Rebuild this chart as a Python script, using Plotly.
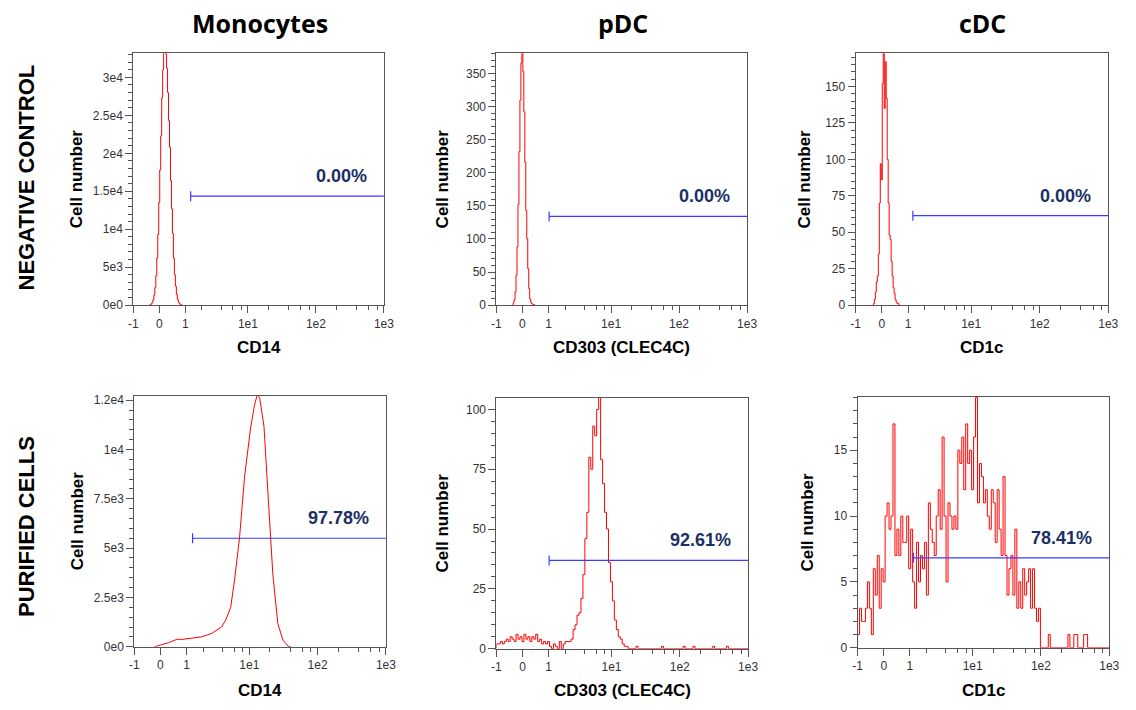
import numpy as np
import plotly.graph_objects as go

W, H = 1136, 710

# ---------------- text ----------------
col_titles = ["Monocytes", "pDC", "cDC"]
row_titles = ["NEGATIVE CONTROL", "PURIFIED CELLS"]
x_titles = ["CD14", "CD303 (CLEC4C)", "CD1c"]
y_title = "Cell number"

# ---------------- x axis (arcsinh display scale) ----------------
x_tick_values = [-1, 0, 1, 10, 100, 1000]
x_tick_labels = ["-1", "0", "1", "1e1", "1e2", "1e3"]
x_minor_values = [2, 4, 6, 8, 20, 40, 60, 80, 200, 400, 600, 800]
x_limits = [-1, 1000]

# ---------------- y axes ----------------
y_max = [33170, 380.6, 172.8, 12717, 104.8, 19.05]
y_tick_values = [
    [0, 5000, 10000, 15000, 20000, 25000, 30000],
    [0, 50, 100, 150, 200, 250, 300, 350],
    [0, 25, 50, 75, 100, 125, 150],
    [0, 2500, 5000, 7500, 10000, 12500],
    [0, 25, 50, 75, 100],
    [0, 5, 10, 15],
]
y_tick_labels = [
    ["0e0", "5e3", "1e4", "1.5e4", "2e4", "2.5e4", "3e4"],
    ["0", "50", "100", "150", "200", "250", "300", "350"],
    ["0", "25", "50", "75", "100", "125", "150"],
    ["0e0", "2.5e3", "5e3", "7.5e3", "1e4", "1.2e4"],
    ["0", "25", "50", "75", "100"],
    ["0", "5", "10", "15"],
]
y_minor_step = [1000, 10, 5, 500, 5, 1]

# ---------------- gates ----------------
gate_start = [1.27, 1.03, 1.24, 1.31, 1.02, 1.18]
gate_level = [14350, 134, 61.4, 5500, 36.9, 6.83]
gate_percent = ["0.00%", "0.00%", "0.00%", "97.78%", "92.61%", "78.41%"]

# ---------------- histograms (counts per channel bin) ----------------
# negative controls: 256 channel bins across the displayed range
neg_bins = 256
mono_neg_first_bin = 17
mono_neg_counts = [74, 165, 345, 690, 1300, 2300, 3900, 6200, 9300, 13500,
                   17800, 22300, 27300, 31000, 33400, 34000, 33100, 31200, 28000, 24300,
                   20800, 16400, 12700, 9450, 6200, 4000, 2500, 1400, 750, 380,
                   170, 70, 20]
pdc_neg_first_bin = 17
pdc_neg_counts = [3, 8, 20, 45, 88, 152, 232, 310, 366, 385,
                  353, 292, 216, 143, 100, 55, 25, 9, 4, 2, 1, 1]
cdc_neg_first_bin = 18
cdc_neg_counts = [1, 4, 9, 16, 20, 35, 70, 97, 86, 152,
                  178, 135, 167, 142, 100, 70, 48, 45, 30, 20,
                  12, 8, 4, 2, 1, 1]

# purified monocytes: smooth profile (intensity, count)
mono_pur_intensity = [-0.2, -0.1, 0, 0.27, 0.51, 0.60, 0.78, 1.09, 1.87, 2.70,
                      3.44, 3.86, 4.46, 5.30, 6.05, 7.15, 8.53, 10.5, 11.9, 13.1,
                      14.2, 16.4, 18.1, 20.5, 22.1, 26.2, 31.1, 36.9, 40.7]
mono_pur_counts = [0, 30, 83, 200, 333, 383, 367, 417, 500, 667,
                   917, 1000, 1350, 2000, 3400, 5500, 8667, 11167, 12250, 12800,
                   12600, 11167, 8667, 5500, 3667, 1167, 333, 33, 0]

# purified pDC / cDC: 128 channel bins across the displayed range
pur_bins = 128
pdc_pur_counts = [2, 2, 3, 2, 3, 4, 3, 5, 4, 3,
                  6, 4, 5, 3, 6, 4, 5, 3, 5, 4,
                  6, 3, 4, 2, 3, 2, 3, 1, 0, 2,
                  1, 0, 3, 0, 2, 3, 3, 3, 4, 8,
                  10, 14, 15, 21, 31, 46, 57, 80, 75, 93,
                  89, 100, 108, 79, 69, 57, 50, 36, 28, 20,
                  12, 8, 5, 4, 2, 1, 1, 0, 0, 0,
                  0, 1, 0, 0, 0, 0, 0, 0, 0, 0,
                  0, 0, 0, 0, 1, 0, 0, 0, 0, 0,
                  0, 0, 0, 0, 0, 1, 0, 0, 0, 0,
                  1, 0, 0, 0, 0, 0, 0, 0, 0, 0,
                  1, 0, 0, 0, 0, 0, 0, 1, 0, 0,
                  0, 0, 0, 0, 0, 0, 0, 0]
cdc_pur_counts = [1, 3, 2, 2, 3, 5, 3, 1, 6, 4,
                  7, 3, 6, 5, 10, 11, 9, 10, 17, 7,
                  9, 7, 10, 8, 8, 10, 6, 9, 5, 3,
                  8, 5, 7, 6, 8, 4, 11, 9, 8, 7,
                  10, 12, 9, 16, 10, 5, 11, 10, 9, 10,
                  9, 15, 14, 16, 12, 17, 14, 15, 12, 16,
                  19, 11, 14, 13, 11, 12, 10, 9, 12, 11,
                  8, 12, 9, 7, 13, 7, 4, 6, 7, 4,
                  9, 3, 5, 3, 6, 4, 5, 6, 3, 6,
                  3, 2, 3, 0, 0, 0, 0, 1, 0, 0,
                  0, 0, 0, 0, 0, 0, 0, 1, 0, 0,
                  1, 1, 0, 0, 0, 1, 1, 0, 0, 0,
                  0, 0, 0, 0, 0, 0, 0, 0]

# ---------------- styling / layout constants ----------------
RED = "#ff0000"
BLUE = "#3b3bff"
NAVY = "#1b2f66"
AX = "#555555"
TICK_FONT = dict(family="Liberation Sans, Arial, sans-serif", size=12, color="#333333")
LAB_FONT = dict(family="Liberation Sans, Arial, sans-serif", size=17, color="#000000")

# plot rectangles in pixels: (left, right, top, bottom)
panel_px = [
    (130, 384, 52, 307),
    (498, 752, 52, 307),
    (862, 1118, 52, 307),
    (131, 386, 399, 653),
    (498, 753, 401, 655),
    (864, 1119, 400, 654),
]


def tx(v):
    return np.arcsinh(np.asarray(v, dtype=float))


C_MIN, C_MAX = float(tx(x_limits[0])), float(tx(x_limits[1]))


def step_xy(counts, first_bin, n_bins):
    edges = np.linspace(C_MIN, C_MAX, n_bins + 1)
    n = len(counts)
    xs = np.concatenate([[edges[first_bin]], edges[first_bin:first_bin + n + 1]])
    ys = np.concatenate([[0], np.asarray(counts, float), [0]])
    return xs, ys


fig = go.Figure()

series = [
    step_xy(mono_neg_counts, mono_neg_first_bin, neg_bins),
    step_xy(pdc_neg_counts, pdc_neg_first_bin, neg_bins),
    step_xy(cdc_neg_counts, cdc_neg_first_bin, neg_bins),
    (tx(mono_pur_intensity), np.asarray(mono_pur_counts, float)),
    step_xy(pdc_pur_counts, 0, pur_bins),
    step_xy(cdc_pur_counts, 0, pur_bins),
]

annotations = []
shapes = []

for i, (xs, ys) in enumerate(series):
    n = i + 1
    xr = "x" if n == 1 else f"x{n}"
    yr = "y" if n == 1 else f"y{n}"
    fig.add_trace(go.Scatter(
        x=xs, y=ys, mode="lines",
        line=dict(color=RED, width=1, shape="linear" if i == 3 else "hv"),
        xaxis=xr, yaxis=yr, hoverinfo="skip", showlegend=False,
    ))
    l, r, t, b = panel_px[i]
    xkey = "xaxis" if n == 1 else f"xaxis{n}"
    ykey = "yaxis" if n == 1 else f"yaxis{n}"
    fig.layout[xkey] = dict(
        domain=[l / W, r / W], anchor=yr, range=[C_MIN, C_MAX],
        tickmode="array", tickvals=tx(x_tick_values), ticktext=x_tick_labels,
        ticks="outside", ticklen=7, tickwidth=1, tickcolor=AX,
        showline=True, linecolor=AX, linewidth=1, mirror=True,
        showgrid=False, zeroline=False, tickfont=TICK_FONT,
        minor=dict(tickmode="array", tickvals=tx(x_minor_values), ticks="outside",
                   ticklen=4, tickwidth=1, tickcolor=AX, showgrid=False),
    )
    fig.layout[ykey] = dict(
        domain=[1 - b / H, 1 - t / H], anchor=xr, range=[0, y_max[i]],
        tickmode="array", tickvals=y_tick_values[i], ticktext=y_tick_labels[i],
        ticks="outside", ticklen=7, tickwidth=1, tickcolor=AX,
        showline=True, linecolor=AX, linewidth=1, mirror=True,
        showgrid=False, zeroline=False, tickfont=TICK_FONT,
        minor=dict(tick0=0, dtick=y_minor_step[i], ticks="outside",
                   ticklen=4, tickwidth=1, tickcolor=AX, showgrid=False),
    )
    # gate
    gx0 = float(tx(gate_start[i]))
    shapes.append(dict(type="line", xref=xr, yref=yr, x0=gx0, x1=C_MAX,
                       y0=gate_level[i], y1=gate_level[i],
                       line=dict(color=BLUE, width=1.2)))
    shapes.append(dict(type="line", xref=xr, yref=yr, x0=gx0, x1=gx0,
                       ysizemode="pixel", yanchor=gate_level[i], y0=-5, y1=5,
                       line=dict(color=BLUE, width=1.2)))
    annotations.append(dict(
        text=gate_percent[i], xref=f"{xr} domain", yref=yr,
        x=0.94, y=gate_level[i], yshift=20, xanchor="right", yanchor="middle",
        showarrow=False,
        font=dict(family="Liberation Sans, Arial, sans-serif", size=18,
                  color=NAVY, weight="bold"),
    ))
    # axis titles
    col = i % 3
    row = i // 3
    xt_y = (350 if row == 0 else 697)
    annotations.append(dict(
        text=f"<b>{x_titles[col]}</b>", xref="paper", yref="paper",
        x=((l + r) / 2) / W, y=1 - xt_y / H, xanchor="center", yanchor="middle",
        showarrow=False, font=LAB_FONT,
    ))
    yt_x = [72, 443, 810, 73, 443, 813][i]
    annotations.append(dict(
        text=f"<b>{y_title}</b>", xref="paper", yref="paper",
        x=yt_x / W, y=1 - ((t + b) / 2) / H, xanchor="center", yanchor="middle",
        textangle=-90, showarrow=False, font=LAB_FONT,
    ))

# column titles
for col, cx in enumerate([258, 626, 991]):
    annotations.append(dict(
        text=f"<b>{col_titles[col]}</b>", xref="paper", yref="paper",
        x=cx / W, y=1 - 21 / H, xanchor="center", yanchor="middle",
        showarrow=False,
        font=dict(family="Open Sans, sans-serif", size=25, color="#000000"),
    ))

# row titles
for row, cy in enumerate([178, 531]):
    annotations.append(dict(
        text=f"<b>{row_titles[row]}</b>", xref="paper", yref="paper",
        x=22 / W, y=1 - cy / H, xanchor="center", yanchor="middle",
        textangle=-90, showarrow=False,
        font=dict(family="Liberation Sans, Arial, sans-serif", size=22, color="#000000"),
    ))

fig.update_layout(
    width=W, height=H, margin=dict(l=0, r=0, t=0, b=0),
    paper_bgcolor="white", plot_bgcolor="white", showlegend=False,
    annotations=annotations, shapes=shapes,
)

fig.write_html("out.html")
